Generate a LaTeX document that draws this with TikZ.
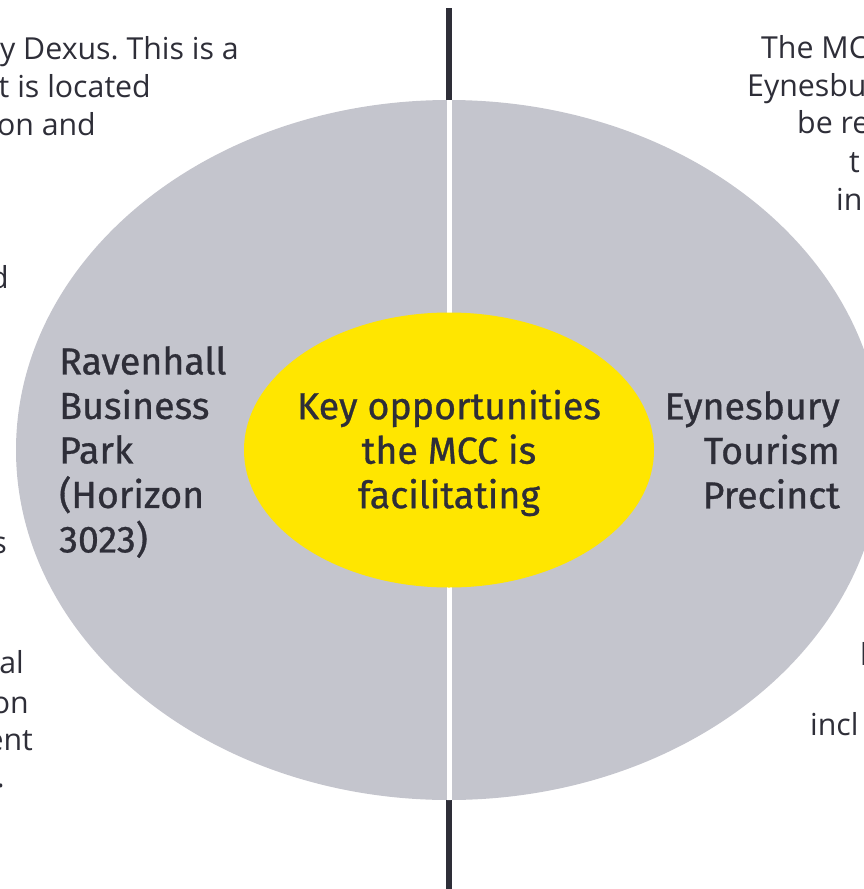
\documentclass[tikz,border=0pt]{standalone}
\usepackage{fontspec}
\setmainfont{Fira Sans}[FakeBold=0.8]
\newfontfamily\notefont{Open Sans}
\usetikzlibrary{shapes.geometric}

\definecolor{eydark}{RGB}{46,46,56}
\definecolor{eygrey}{RGB}{196,197,205}
\definecolor{eyyellow}{RGB}{255,230,0}

\tikzset{
  maintext/.style={text=eydark, inner sep=0pt, font=\fontsize{37.6}{44.5}\selectfont},
  sidenote/.style={text=eydark, inner sep=0pt, font=\notefont\fontsize{30.3}{38.5}\selectfont},
}

\begin{document}
\frenchspacing
\begin{tikzpicture}[x=1pt,y=1pt,yscale=-1]
  \useasboundingbox (0,0) rectangle (864,889);

  % divider behind the rings
  \coordinate (top) at (449,8);
  \coordinate (bottom) at (449,889);
  \draw [eydark, line width=6pt] (top) -- (bottom);

  % outer ring, split in two halves
  \node (ring) [ellipse, fill=eygrey, inner sep=0pt, minimum width=866, minimum height=700] at (449,450) {};
  \draw [white, line width=5pt] (ring.north) -- (ring.south);

  % yellow hub
  \node (hub) [ellipse, fill=eyyellow, inner sep=0pt, minimum width=410, minimum height=275] at (449,450) {};
  \node (hubtext) [maintext, align=center] at (449,453) {Key opportunities\\the MCC is\\facilitating};

  % the two halves
  \node (ravenhall) [maintext, align=left, anchor=north west] at (59,346) {Ravenhall\\Business\\Park\\(Horizon\\3023)};
  \node (eynesbury) [maintext, align=right, anchor=north east] at (840,391) {Eynesbury\\Tourism\\Precinct};

  % notes running off the left edge
  \node (l1) [sidenote, anchor=base east] at (239,59) {y Dexus. This is a};
  \node (l2) [sidenote, anchor=base east] at (151,97) {t is located};
  \node (l3) [sidenote, anchor=base east] at (96,135) {on and};
  \node (l4) [sidenote, anchor=base east] at (9,288) {d};
  \node (l5) [sidenote, anchor=base east] at (7,553) {s};
  \node (l6) [sidenote, anchor=base east] at (24,673) {al};
  \node (l7) [sidenote, anchor=base east] at (29,713) {on};
  \node (l8) [sidenote, anchor=base east] at (33,750) {ent};
  \node (l9) [sidenote, anchor=base east] at (5,787) {.};

  % notes running off the right edge
  \node (r1) [sidenote, anchor=base west] at (761,58) {The MC};
  \node (r2) [sidenote, anchor=base west] at (747,96) {Eynesbu};
  \node (r3) [sidenote, anchor=base west] at (797,133) {be re};
  \node (r4) [sidenote, anchor=base west] at (849,172) {t};
  \node (r5) [sidenote, anchor=base west] at (836,210) {in};
  \node (r6) [sidenote, anchor=base west] at (860,665) {l};
  \node (r7) [sidenote, anchor=base west] at (810,735) {incl};
\end{tikzpicture}
\end{document}
